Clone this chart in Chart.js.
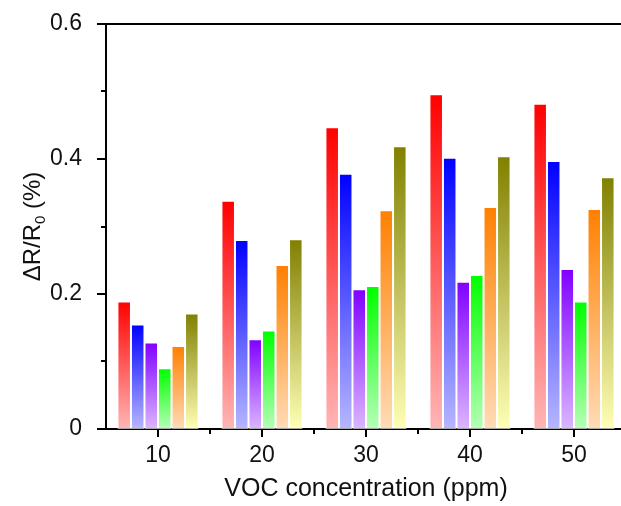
<!DOCTYPE html>
<html>
<head>
<meta charset="utf-8">
<script src="https://cdn.jsdelivr.net/npm/chart.js@4"></script>
<style>
  html, body { margin: 0; padding: 0; background: #fff; overflow: hidden; }
</style>
</head>
<body>
<canvas id="vocChart" width="640" height="506"></canvas>
<script>
// data
const concentrations = ['10', '20', '30', '40', '50'];
const series1 = [0.189, 0.338, 0.447, 0.496, 0.482];
const series2 = [0.155, 0.280, 0.378, 0.402, 0.397];
const series3 = [0.128, 0.133, 0.207, 0.218, 0.237];
const series4 = [0.090, 0.146, 0.212, 0.228, 0.189];
const series5 = [0.123, 0.243, 0.324, 0.329, 0.326];
const series6 = [0.171, 0.281, 0.419, 0.404, 0.373];
const yTicks = [0, 0.2, 0.4, 0.6];
const yMinorTicks = [0.1, 0.3, 0.5];

const FONT = '"Liberation Sans", Arial, sans-serif';

// each bar fades from a strong colour at its top to a pale one at the axis
function barFill(top, bottom) {
    return function (ctx) {
        const chart = ctx.chart;
        if (!chart.chartArea || ctx.type !== 'data') return top;
        const y = chart.scales.y;
        const y0 = y.getPixelForValue(ctx.raw);
        const y1 = y.getPixelForValue(0);
        const g = chart.ctx.createLinearGradient(0, y0, 0, y1);
        g.addColorStop(0, top);
        g.addColorStop(1, bottom);
        return g;
    };
}

function makeSet(label, data, top, bottom) {
    return {
        label: label,
        data: data,
        backgroundColor: barFill(top, bottom),
        borderColor: 'rgba(255,255,255,0.65)',
        borderWidth: 1,
        borderSkipped: false
    };
}

// axis ticks (major + minor), top frame line and the y title with subscript
const frameAndTicks = {
    id: 'frameAndTicks',
    afterDraw(chart) {
        const c = chart.ctx;
        const a = chart.chartArea;
        const x = chart.scales.x;
        const y = chart.scales.y;
        c.save();
        c.strokeStyle = '#000';
        c.lineWidth = 2;
        c.beginPath();
        c.moveTo(a.left - 1, a.top);
        c.lineTo(chart.width, a.top);
        yTicks.forEach(function (v) {
            const p = Math.round(y.getPixelForValue(v));
            c.moveTo(a.left - 9, p);
            c.lineTo(a.left, p);
        });
        yMinorTicks.forEach(function (v) {
            const p = Math.round(y.getPixelForValue(v));
            c.moveTo(a.left - 5, p);
            c.lineTo(a.left, p);
        });
        concentrations.forEach(function (lab, i) {
            const p = Math.round(x.getPixelForValue(i));
            c.moveTo(p, a.bottom);
            c.lineTo(p, a.bottom + 8);
            const q = Math.round(p + (x.getPixelForValue(1) - x.getPixelForValue(0)) / 2);
            c.moveTo(q, a.bottom);
            c.lineTo(q, a.bottom + 5);
        });
        c.stroke();

        // y title: ΔR/R0 (%)
        c.translate(40, (a.top + a.bottom) / 2);
        c.rotate(-Math.PI / 2);
        c.fillStyle = '#111';
        c.textBaseline = 'alphabetic';
        const big = '24px ' + FONT;
        const small = '15px ' + FONT;
        c.font = big;
        const w1 = c.measureText('\u0394R/R').width;
        const w3 = c.measureText(' (%)').width;
        c.font = small;
        const w2 = c.measureText('0').width;
        let tx = -(w1 + w2 + w3) / 2;
        c.font = big;
        c.fillText('\u0394R/R', tx, 0);
        tx += w1;
        c.font = small;
        c.fillText('0', tx, 5);
        tx += w2;
        c.font = big;
        c.fillText(' (%)', tx, 0);
        c.restore();
    }
};

new Chart(document.getElementById('vocChart'), {
    type: 'bar',
    data: {
        labels: concentrations,
        datasets: [
            makeSet('S1', series1, '#ff0000', '#ffb6b6'),
            makeSet('S2', series2, '#0000ff', '#b6b6ff'),
            makeSet('S3', series3, '#8000ff', '#dcb6ff'),
            makeSet('S4', series4, '#00ff00', '#b6ffb6'),
            makeSet('S5', series5, '#ff8000', '#ffdcb6'),
            makeSet('S6', series6, '#808000', '#ffffb6')
        ]
    },
    options: {
        responsive: false,
        devicePixelRatio: 1,
        animation: false,
        layout: { padding: { left: 0, top: 24, right: 14, bottom: 0 } },
        plugins: {
            legend: { display: false },
            tooltip: { enabled: false }
        },
        datasets: {
            bar: { categoryPercentage: 0.78, barPercentage: 1 }
        },
        scales: {
            x: {
                offset: true,
                grid: { display: false },
                border: { display: true, color: '#000', width: 2 },
                ticks: {
                    autoSkip: false,
                    maxRotation: 0,
                    padding: 5,
                    color: '#111',
                    font: { family: FONT, size: 23 }
                },
                title: {
                    display: true,
                    text: 'VOC concentration (ppm)',
                    color: '#111',
                    font: { family: FONT, size: 25 },
                    padding: { top: 0, bottom: 2 }
                },
                afterFit: function (scale) {
                    scale.height = 77;
                    scale.paddingLeft = 0;
                    scale.paddingRight = 0;
                }
            },
            y: {
                min: 0,
                max: 0.6,
                grid: { display: false },
                border: { display: true, color: '#000', width: 2 },
                ticks: {
                    stepSize: 0.2,
                    padding: 16,
                    color: '#111',
                    font: { family: FONT, size: 23 }
                },
                afterFit: function (scale) {
                    scale.width = 106;
                    scale.paddingTop = 0;
                    scale.paddingBottom = 0;
                }
            }
        }
    },
    plugins: [frameAndTicks]
});
</script>
</body>
</html>
